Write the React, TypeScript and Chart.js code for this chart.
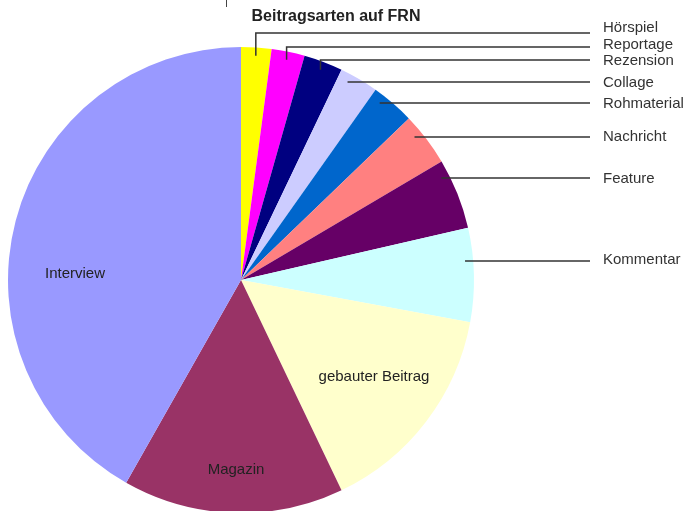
import React, { useEffect, useRef } from 'react';
import { Chart, registerables } from 'chart.js';

Chart.register(...registerables);

const categories = [
  'Hörspiel',
  'Reportage',
  'Rezension',
  'Collage',
  'Rohmaterial',
  'Nachricht',
  'Feature',
  'Kommentar',
  'gebauter Beitrag',
  'Magazin',
  'Interview',
];
const shares = [2.1, 2.3, 2.7, 2.7, 3.0, 3.7, 4.9, 6.5, 15.0, 15.3, 41.8];
const sliceColors = [
  '#ffff00',
  '#ff00ff',
  '#000080',
  '#ccccff',
  '#0066cc',
  '#ff8080',
  '#660066',
  '#ccffff',
  '#ffffcc',
  '#993366',
  '#9999ff',
];
const titleText = 'Beitragsarten auf FRN';

// layout of the outside labels (leader line height and text height, px)
const leaderLineY = [33, 47, 60, 82, 103, 137, 178, 261];
const outsideTextY = [28, 45, 61, 83, 104, 137, 179, 260];
// inside labels: offsets from pie centre (px)
const insideLabelOffsets: Record<string, [number, number]> = {
  'gebauter Beitrag': [133, 97],
  Magazin: [-5, 190],
  Interview: [-166, -6],
};

const FONT = '"Liberation Sans", Arial, Helvetica, sans-serif';

const labelPlugin = {
  id: 'frnLabels',
  afterDatasetsDraw(chart: any) {
    const ctx = chart.ctx as CanvasRenderingContext2D;
    const meta = chart.getDatasetMeta(0);
    ctx.save();

    // title
    ctx.fillStyle = '#222';
    ctx.font = `bold 16px ${FONT}`;
    ctx.textAlign = 'center';
    ctx.textBaseline = 'middle';
    ctx.fillText(titleText, 336, 17);

    // small tick at top
    ctx.strokeStyle = '#444';
    ctx.lineWidth = 1;
    ctx.beginPath();
    ctx.moveTo(226.5, 0);
    ctx.lineTo(226.5, 7);
    ctx.stroke();

    const lineEndX = 590;
    const textX = 603;
    ctx.lineWidth = 1.5;
    ctx.strokeStyle = '#333';
    ctx.font = `15px ${FONT}`;
    ctx.textAlign = 'left';
    ctx.fillStyle = '#333';

    for (let i = 0; i < leaderLineY.length; i++) {
      const arc = meta.data[i];
      const { x, y, startAngle, endAngle, outerRadius } = arc.getProps(
        ['x', 'y', 'startAngle', 'endAngle', 'outerRadius'],
        true
      );
      const r = outerRadius * 0.965;
      const ly = leaderLineY[i];
      const dy = ly - y;
      let done = false;
      if (Math.abs(dy) < r) {
        const ax = x + Math.sqrt(r * r - dy * dy);
        const ang = Math.atan2(dy, ax - x);
        if (ang >= startAngle && ang <= endAngle) {
          ctx.beginPath();
          ctx.moveTo(ax, ly);
          ctx.lineTo(lineEndX, ly);
          ctx.stroke();
          done = true;
        }
      }
      if (!done) {
        const mid = (startAngle + endAngle) / 2;
        const px = x + r * Math.cos(mid);
        const py = y + r * Math.sin(mid);
        ctx.beginPath();
        ctx.moveTo(px, py);
        ctx.lineTo(px, ly);
        ctx.lineTo(lineEndX, ly);
        ctx.stroke();
      }
      ctx.fillText(categories[i], textX, outsideTextY[i]);
    }

    // inside labels
    ctx.textAlign = 'center';
    ctx.fillStyle = '#222';
    const c = meta.data[0];
    for (const name of Object.keys(insideLabelOffsets)) {
      const [ox, oy] = insideLabelOffsets[name];
      ctx.fillText(name, c.x + ox, c.y + oy);
    }
    ctx.restore();
  },
};

export default function App() {
  const ref = useRef<HTMLCanvasElement>(null);
  useEffect(() => {
    document.body.style.margin = '0';
    if (!ref.current) return;
    const chart = new Chart(ref.current, {
      type: 'pie',
      data: {
        labels: categories,
        datasets: [
          {
            data: shares,
            backgroundColor: sliceColors,
            borderWidth: 0,
            clip: false as any,
          },
        ],
      },
      options: {
        responsive: false,
        animation: false,
        radius: 233,
        layout: { padding: { left: 8, right: 218, top: 49, bottom: 0 } },
        plugins: {
          legend: { display: false },
          title: { display: false },
          tooltip: { enabled: false },
        },
      } as any,
      plugins: [labelPlugin],
    });
    return () => chart.destroy();
  }, []);
  return (
    <div style={{ width: 692, height: 511, background: '#fff' }}>
      <canvas ref={ref} width={692} height={511} style={{ display: 'block' }} />
    </div>
  );
}
